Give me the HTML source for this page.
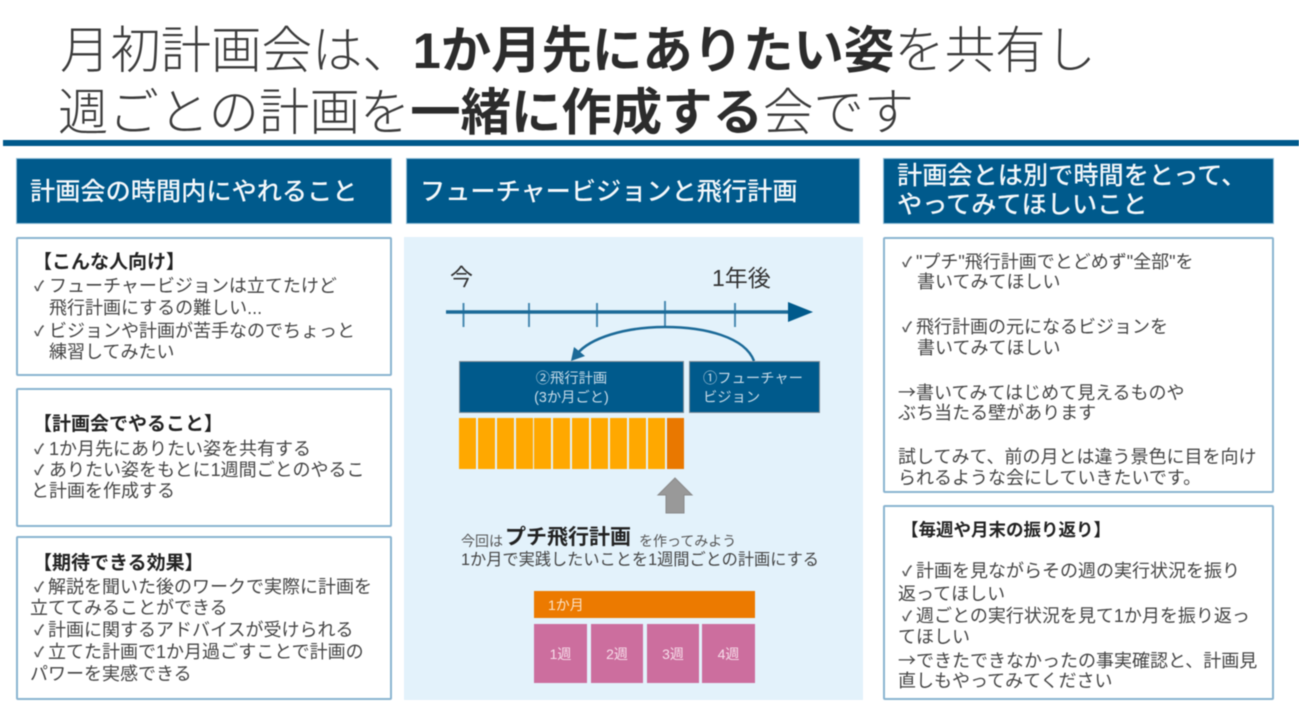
<!DOCTYPE html>
<html lang="ja"><head><meta charset="utf-8">
<style>
html,body{margin:0;padding:0;background:#fff}
#p{position:relative;width:1299px;height:728px;overflow:hidden;background:#fff;font-family:"Liberation Sans","Noto Sans CJK JP",sans-serif;filter:blur(.6px)}
#p div{position:absolute;box-sizing:border-box}
.t{white-space:nowrap;line-height:24px;height:24px;font-size:18px;color:#444}
.c{font-size:14px;font-weight:700;color:#555}
.a{font-family:"Noto Sans CJK JP",sans-serif}
.h{white-space:nowrap;line-height:30px;height:30px;font-size:25.200px;color:#f4f8fb;font-weight:500}
.b{font-weight:700;color:#222}
.hd{background:#005a8c;border:1px solid #8fbcd6}
.bx{background:#fff;border:2px solid #8ab4d0;border-radius:2px}
.o{background:#ffa800;top:418px;width:17px;height:51px}
.w{background:#cc6e9e;top:624px;height:59px;color:#f6dce9;font-size:14px;line-height:60px;text-align:center}
.ti{white-space:nowrap;font-size:50.400px;line-height:60px;height:60px;color:#3c3c3c;font-weight:300}
.ti b{font-weight:700;color:#2c2c2c}
.s{height:20px;line-height:20px;font-size:14.300px;color:#c7dbe8}
</style></head><body><div id="p">

<div class="ti" style="left:60px;top:21px">月初計画会は、<b>1か月先にありたい姿</b>を共有し</div>
<div class="ti" style="left:58px;top:83px">週ごとの計画を<b>一緒に作成する</b>会です</div>
<div style="left:3px;top:140px;width:1296px;height:6px;background:#005a8c"></div>

<div class="hd" style="left:16px;top:158px;width:376px;height:66px"></div>
<div class="hd" style="left:406px;top:158px;width:454px;height:66px"></div>
<div class="hd" style="left:883px;top:158px;width:391px;height:66px"></div>
<div class="h" style="left:30px;top:177px">計画会の時間内にやれること</div>
<div class="h" style="left:420px;top:177px">フューチャービジョンと飛行計画</div>
<div class="h" style="left:897px;top:161px">計画会とは別で時間をとって、</div>
<div class="h" style="left:897px;top:190px">やってみてほしいこと</div>

<div class="bx" style="left:16px;top:237px;width:376px;height:139px"></div>
<div class="bx" style="left:16px;top:388px;width:376px;height:139px"></div>
<div class="bx" style="left:16px;top:536px;width:376px;height:164px"></div>
<div class="bx" style="left:883px;top:237px;width:391px;height:256px"></div>
<div class="bx" style="left:883px;top:505px;width:391px;height:195px"></div>

<!-- left box 1 -->
<div class="t b" style="left:33px;top:251px;font-size:19px">【こんな人向け】</div>
<div class="t c" style="left:34px;top:274px">✓</div><div class="t" style="left:49px;top:274px">フューチャービジョンは立てたけど</div>
<div class="t" style="left:49px;top:296px">飛行計画にするの難しい...</div>
<div class="t c" style="left:34px;top:319px">✓</div><div class="t" style="left:49px;top:319px">ビジョンや計画が苦手なのでちょっと</div>
<div class="t" style="left:49px;top:340px">練習してみたい</div>
<!-- left box 2 -->
<div class="t b" style="left:33px;top:413px;font-size:19px">【計画会でやること】</div>
<div class="t c" style="left:34px;top:437px">✓</div><div class="t" style="left:49px;top:437px">1か月先にありたい姿を共有する</div>
<div class="t c" style="left:34px;top:458px">✓</div><div class="t" style="left:49px;top:458px">ありたい姿をもとに1週間ごとのやるこ</div>
<div class="t" style="left:31px;top:479px">と計画を作成する</div>
<!-- left box 3 -->
<div class="t b" style="left:33px;top:552px;font-size:19px">【期待できる効果】</div>
<div class="t c" style="left:34px;top:575px">✓</div><div class="t" style="left:48px;top:575px">解説を聞いた後のワークで実際に計画を</div>
<div class="t" style="left:30px;top:596px">立ててみることができる</div>
<div class="t c" style="left:34px;top:618px">✓</div><div class="t" style="left:48px;top:618px">計画に関するアドバイスが受けられる</div>
<div class="t c" style="left:34px;top:640px">✓</div><div class="t" style="left:48px;top:640px">立てた計画で1か月過ごすことで計画の</div>
<div class="t" style="left:30px;top:662px">パワーを実感できる</div>

<!-- center -->
<div style="left:404px;top:237px;width:459px;height:463px;background:#e3f2fb"></div>
<div class="t" style="left:450px;top:265px;font-size:23px;color:#333">今</div>
<div class="t" style="left:712px;top:266px;font-size:23px;color:#333">1年後</div>
<svg style="position:absolute;left:0;top:0" width="1299" height="728" viewBox="0 0 1299 728">
<g stroke="#4a8bb2" stroke-width="2" fill="none">
<path d="M463.500 303V327M529 303V327M597 303V327M665 301V327M735 303V327"/></g>
<path d="M446 312H792" stroke="#1b6a98" stroke-width="3.500" fill="none"/>
<path d="M788 302L813 312L788 322Z" fill="#005a8c"/>
<path d="M754 361C745 337 705 327 665 327C625 327 590 338 577 354" stroke="#1b6a98" stroke-width="2.500" fill="none"/>
<path d="M571 361L574 347L585 356Z" fill="#1b6a98"/>
<path d="M675 478L692 495H684V513H666V495H658Z" fill="#999" stroke="#8a8a8a"/>
</svg>
<div style="left:459px;top:361px;width:225px;height:52px;background:#005a8c;border:1px solid #7f8c96"></div>
<div style="left:689px;top:361px;width:131px;height:52px;background:#005a8c;border:1px solid #7f8c96"></div>
<div class="t s" style="left:459px;width:225px;top:369px;text-align:center">②飛行計画</div>
<div class="t s" style="left:459px;width:225px;top:388px;text-align:center">(3か月ごと)</div>
<div class="t s" style="left:703px;top:369px">①フューチャー</div>
<div class="t s" style="left:703px;top:388px">ビジョン</div>

<div class="o" style="left:459px"></div><div class="o" style="left:478px"></div><div class="o" style="left:497px"></div><div class="o" style="left:516px"></div><div class="o" style="left:534px"></div><div class="o" style="left:553px"></div><div class="o" style="left:572px"></div><div class="o" style="left:591px"></div><div class="o" style="left:610px"></div><div class="o" style="left:629px"></div><div class="o" style="left:648px"></div>
<div class="o" style="left:667px;background:#e97800"></div>

<div class="t" style="left:461px;top:529px;font-size:14px;color:#555">今回は</div>
<div class="t b" style="left:505px;top:526px;font-size:21px;color:#222">プチ飛行計画</div>
<div class="t" style="left:639px;top:529px;font-size:14px;color:#555">を作ってみよう</div>
<div class="t" style="left:461px;top:548px;font-size:16.200px;color:#444">1か月で実践したいことを1週間ごとの計画にする</div>

<div style="left:534px;top:591px;width:221px;height:27px;background:#ec7a00"></div>
<div class="t" style="left:548px;top:593px;font-size:14px;color:#fbe3c8">1か月</div>
<div class="w" style="left:534px;width:53px">1週</div>
<div class="w" style="left:591px;width:52px">2週</div>
<div class="w" style="left:647px;width:52px">3週</div>
<div class="w" style="left:702px;width:53px">4週</div>

<!-- right box 1 -->
<div class="t c" style="left:902px;top:250px">✓</div><div class="t" style="left:916px;top:250px">"プチ"飛行計画でとどめず"全部"を</div>
<div class="t" style="left:917px;top:270px">書いてみてほしい</div>
<div class="t c" style="left:902px;top:315px">✓</div><div class="t" style="left:916px;top:315px">飛行計画の元になるビジョンを</div>
<div class="t" style="left:917px;top:336px">書いてみてほしい</div>
<div class="t" style="left:898px;top:380px"><span class="a">→</span>書いてみてはじめて見えるものや</div>
<div class="t" style="left:898px;top:401px">ぶち当たる壁があります</div>
<div class="t" style="left:898px;top:445px">試してみて、前の月とは違う景色に目を向け</div>
<div class="t" style="left:898px;top:466px">られるような会にしていきたいです。</div>
<!-- right box 2 -->
<div class="t b" style="left:901px;top:518px;font-size:17.500px">【毎週や月末の振り返り】</div>
<div class="t c" style="left:902px;top:559px">✓</div><div class="t" style="left:916px;top:559px">計画を見ながらその週の実行状況を振り</div>
<div class="t" style="left:898px;top:582px">返ってほしい</div>
<div class="t c" style="left:902px;top:604px">✓</div><div class="t" style="left:916px;top:604px">週ごとの実行状況を見て1か月を振り返っ</div>
<div class="t" style="left:898px;top:625px">てほしい</div>
<div class="t" style="left:898px;top:648px"><span class="a">→</span>できたできなかったの事実確認と、計画見</div>
<div class="t" style="left:898px;top:669px">直しもやってみてください</div>

</div></body></html>
